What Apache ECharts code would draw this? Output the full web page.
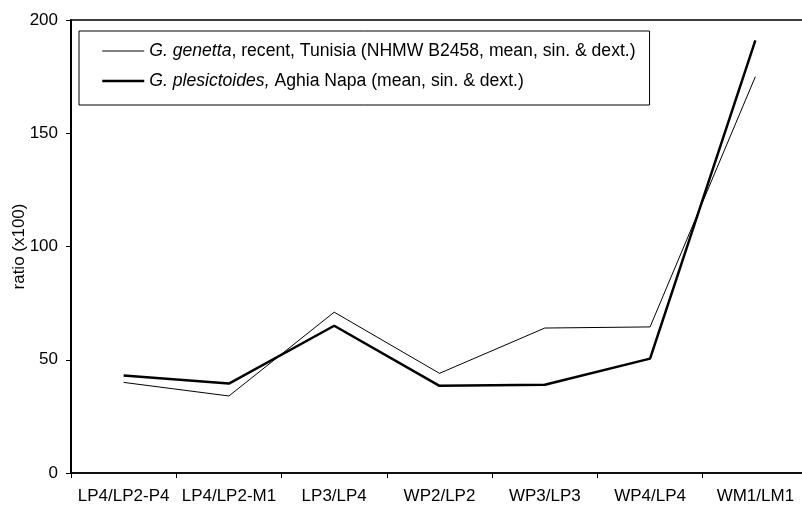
<!DOCTYPE html>
<html>
<head>
<meta charset="utf-8">
<script src="https://cdn.jsdelivr.net/npm/echarts@6/dist/echarts.min.js"></script>
<style>html,body{margin:0;padding:0;background:#fff}#c{width:802px;height:506px}</style>
</head>
<body>
<div id="c"></div>
<script>
var categories = ['LP4/LP2-P4', 'LP4/LP2-M1', 'LP3/LP4', 'WP2/LP2', 'WP3/LP3', 'WP4/LP4', 'WM1/LM1'];
var genettaValues = [40, 34, 71, 44, 64, 64.5, 175];
var plesictoidesValues = [43, 39.5, 65, 38.5, 39, 50.5, 191];
var yTicks = [0, 50, 100, 150, 200];
var seriesNames = ['genetta', 'plesictoides'];
var legendLabels = {
  genetta: '{i|G. genetta}, recent, Tunisia (NHMW B2458, mean, sin. & dext.)',
  plesictoides: '{i|G. plesictoides,} Aghia Napa (mean, sin. & dext.)'
};

var font = 'Liberation Sans, Arial, sans-serif';
var chart = echarts.init(document.getElementById('c'), null, {renderer: 'canvas'});
chart.setOption({
  animation: false,
  backgroundColor: '#fff',
  grid: {left: 71, top: 20, right: -6, bottom: 33, containLabel: false, outerBoundsMode: 'none',
    show: true, borderColor: '#000', borderWidth: 1.5, backgroundColor: 'transparent'},
  legend: {
    orient: 'vertical', left: 79, top: 31,
    backgroundColor: '#fff', borderColor: '#000', borderWidth: 1,
    padding: [11, 14, 15, 22], itemGap: 12, itemWidth: 42, itemHeight: 14,
    itemStyle: {opacity: 0},
    data: [
      {name: seriesNames[0], lineStyle: {color: '#000', width: 1}},
      {name: seriesNames[1], lineStyle: {color: '#000', width: 2.5}}
    ],
    formatter: function (n) { return legendLabels[n]; },
    textStyle: {fontFamily: font, fontSize: 17.6, lineHeight: 17, color: '#000',
      rich: {i: {fontFamily: font, fontSize: 17.6, lineHeight: 17, fontStyle: 'italic', color: '#000'}}}
  },
  xAxis: {
    type: 'category', data: categories, boundaryGap: true,
    axisLine: {lineStyle: {color: '#000', width: 1.5}},
    axisTick: {show: true, length: 5, inside: false, lineStyle: {color: '#000'}},
    axisLabel: {color: '#000', fontFamily: font, fontSize: 17, margin: 15, interval: 0},
    splitLine: {show: false}
  },
  yAxis: {
    type: 'value', min: yTicks[0], max: yTicks[yTicks.length - 1], interval: 50,
    name: 'ratio (x100)', nameLocation: 'middle', nameGap: 43, nameMoveOverlap: false,
    nameTextStyle: {color: '#000', fontFamily: font, fontSize: 17},
    axisLine: {show: true, lineStyle: {color: '#000', width: 2}},
    axisTick: {show: true, length: 5, lineStyle: {color: '#000'}},
    axisLabel: {color: '#000', fontFamily: font, fontSize: 17, margin: 13},
    splitLine: {show: false}
  },
  series: [
    {name: seriesNames[0], type: 'line', data: genettaValues, symbol: 'none',
     lineStyle: {color: '#000', width: 1}, itemStyle: {color: '#000'}},
    {name: seriesNames[1], type: 'line', data: plesictoidesValues, symbol: 'none',
     lineStyle: {color: '#000', width: 2.5}, itemStyle: {color: '#000'}}
  ]
});
</script>
</body>
</html>
